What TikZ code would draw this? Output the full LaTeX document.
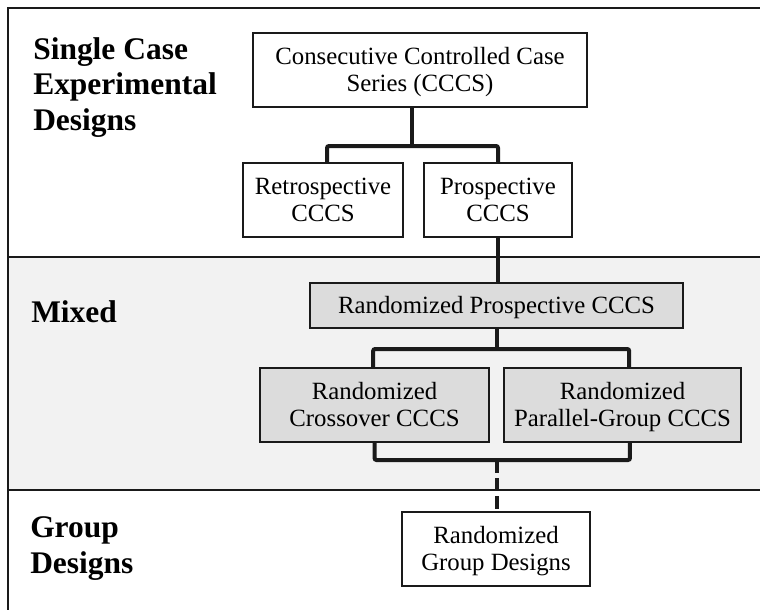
\documentclass[tikz,border=0pt]{standalone}
\usepackage{fontspec}
\setmainfont{Liberation Serif}
\definecolor{bandgray}{HTML}{F2F2F2}
\definecolor{boxgray}{HTML}{DCDCDC}
\definecolor{ink}{HTML}{1A1A1A}
\newcommand{\ls}{\rule[-4pt]{0pt}{20.3pt}}
\begin{document}
\begin{tikzpicture}[x=0.75pt,y=-0.75pt,
  box/.style={draw=ink, line width=1.1pt, fill=white, align=center, inner sep=0pt,
    font=\fontsize{18.6}{20.3}\selectfont},
  gbox/.style={box, fill=boxgray},
  lab/.style={align=left, anchor=base west, inner sep=0pt,
    font=\fontsize{23.6}{26.3}\selectfont\bfseries},
  conn/.style={draw=ink, line width=3pt, rounded corners=1.5pt},
  dconn/.style={draw=ink, line width=3pt, dash pattern=on 9.75pt off 3.75pt},
  frameline/.style={draw=ink, line width=2.2pt}
]
\useasboundingbox (0,0) rectangle (760,610);
% band and frame
\fill[bandgray] (8,257) rectangle (760,490);
\draw[frameline] (8,611) -- (8,8) -- (761,8);
\draw[frameline] (8,257) -- (761,257);
\draw[frameline] (8,490) -- (761,490);

% section labels (anchor on the baseline of the last line)
\node[lab] (l1) at (33,130) {Single Case\\Experimental\\Designs};
\node[lab] (l2) at (31,322) {Mixed};
\node[lab] (l3) at (30,573) {Group\\Designs};

% junction points
\coordinate (j1) at (412,146);
\coordinate (j2) at (497,349);
\coordinate (j3) at (497,460);

% boxes
\node[box, minimum width=250.5pt, minimum height=55.5pt] (cccs) at (420,70)
  {Consecutive Controlled Case\ls\\Series (CCCS)\ls};
\node[box, minimum width=120pt, minimum height=55.5pt] (retro) at (323,200)
  {Retrospective\ls\\CCCS\ls};
\node[box, minimum width=111pt, minimum height=55.5pt] (prosp) at (498,200)
  {Prospective\ls\\CCCS\ls};
\node[gbox, minimum width=279.75pt, minimum height=33.75pt] (rpc) at (496.5,305.5)
  {Randomized Prospective CCCS\ls};
\node[gbox, minimum width=171.75pt, minimum height=55.5pt] (cross) at (374.5,405)
  {Randomized\ls\\Crossover CCCS\ls};
\node[gbox, minimum width=177.75pt, minimum height=55.5pt] (par) at (622.5,405)
  {Randomized\ls\\Parallel-Group CCCS\ls};
\node[box, minimum width=141pt, minimum height=55.5pt] (rgd) at (496,549)
  {Randomized\ls\\Group Designs\ls};

% connectors
\draw[conn] (cccs.south -| j1) -- (j1);
\draw[conn] ([xshift=3pt]retro.north) |- (j1) -| (prosp.north);
\draw[conn] (prosp.south) -- (prosp.south |- rpc.north);
\draw[conn] (rpc.south -| j2) -- (j2);
\draw[conn] ([xshift=-1pt]cross.north) |- (j2) -| ([xshift=5pt]par.north);
\draw[conn] (cross.south) |- (j3) -| ([xshift=5.6pt]par.south);
\draw[dconn] (j3) -- (j3 |- rgd.north);
\end{tikzpicture}
\end{document}
